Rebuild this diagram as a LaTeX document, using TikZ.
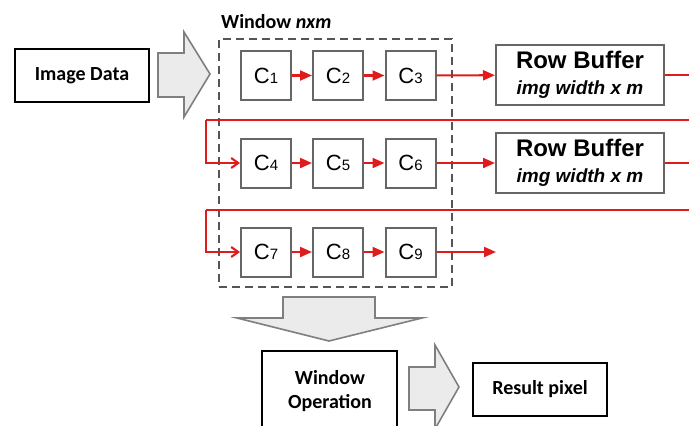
\documentclass[tikz,border=0pt]{standalone}
\usepackage{fontspec}
\setmainfont{Carlito}
\newfontfamily\arialish{Liberation Sans}
\usetikzlibrary{arrows.meta}
\definecolor{flow}{HTML}{E01B1B}
\definecolor{celledge}{HTML}{666666}
\definecolor{winedge}{HTML}{555555}
\definecolor{blockfill}{HTML}{EBEBEB}
\definecolor{blockedge}{HTML}{7F7F7F}
\newcommand{\cellname}[1]{{\fontsize{22}{22}\selectfont C}{\fontsize{15}{15}\selectfont #1}}
\newcommand{\rowbuf}{Row Buffer\\{\fontsize{19}{19}\selectfont\itshape img width x m}}

\begin{document}
\begin{tikzpicture}[x=1pt,y=-1pt,
  cell/.style={draw=celledge,line width=2pt,minimum width=50pt,minimum height=49pt,inner sep=0pt,font=\arialish},
  rowbox/.style={draw=celledge,line width=2pt,minimum width=168pt,minimum height=60pt,inner sep=0pt,align=center,
    font=\arialish\fontsize{24}{26}\selectfont\bfseries},
  plainbox/.style={draw=black,line width=1.8pt,inner sep=0pt,align=center,font=\fontsize{20}{24}\selectfont\bfseries},
  block/.style={draw=blockedge,line width=1.6pt,fill=blockfill,line join=miter},
  flowline/.style={draw=flow,line width=2.1pt},
  tri/.style={-{Triangle[length=12pt,width=10pt]}},
  barb/.style={-{Straight Barb[length=7pt,width=10pt]}}]
\useasboundingbox (0,0) rectangle (689,426);
\clip (0,0) rectangle (689,426);

% input and its block arrow
\node[plainbox,minimum width=134pt,minimum height=53pt] (img) at (82,75.5) {Image Data};
\draw[block] (158,53) -- (184,53) -- (184,32) -- (210,74) -- (184,117) -- (184,97) -- (158,97) -- cycle;

% window frame and title
\node[draw=winedge,line width=1.6pt,dash pattern=on 8pt off 5pt,minimum width=233pt,minimum height=248pt,inner sep=0pt] (win) at (335.5,163) {};
\node[anchor=base west,inner sep=0pt,font=\fontsize{20}{24}\selectfont\bfseries] (wtitle) at (221,28) {Window \textit{nxm}};

% window cells
\node[cell] (c1) at (266,75.5) {\cellname{1}};
\node[cell] (c2) at (338,75.5) {\cellname{2}};
\node[cell] (c3) at (410.5,75.5) {\cellname{3}};
\node[cell] (c4) at (266,163) {\cellname{4}};
\node[cell] (c5) at (338,163) {\cellname{5}};
\node[cell] (c6) at (410.5,163) {\cellname{6}};
\node[cell] (c7) at (266,252) {\cellname{7}};
\node[cell] (c8) at (338,252) {\cellname{8}};
\node[cell] (c9) at (410.5,252) {\cellname{9}};

% row buffers
\node[rowbox] (rb1) at (580,75) {\rowbuf};
\node[rowbox] (rb2) at (580,163) {\rowbuf};

% free ends of the data path
\coordinate (out1) at (695,75);
\coordinate (out2) at (695,163);
\coordinate (ret1) at (695,120);
\coordinate (ret2) at (695,210);
\coordinate (turn1) at (206,120);
\coordinate (turn2) at (206,210);
\coordinate (out3) at (496,252);

% data path
\draw[flowline,tri] (c1) -- (c2);
\draw[flowline,tri] (c2) -- (c3);
\draw[flowline,tri] (c3) -- (rb1);
\draw[flowline] (rb1) -- (out1);
\draw[flowline] (ret1) -- (turn1);
\draw[flowline,barb] (turn1) |- (c4);
\draw[flowline,tri] (c4) -- (c5);
\draw[flowline,tri] (c5) -- (c6);
\draw[flowline,tri] (c6) -- (rb2);
\draw[flowline] (rb2) -- (out2);
\draw[flowline] (ret2) -- (turn2);
\draw[flowline,barb] (turn2) |- (c7);
\draw[flowline,tri] (c7) -- (c8);
\draw[flowline,tri] (c8) -- (c9);
\draw[flowline,tri] (c9) -- (out3);

% window operation stage
\draw[block] (283,297) -- (375,297) -- (375,318) -- (422,318) -- (329,341) -- (237,318) -- (283,318) -- cycle;
\node[plainbox,minimum width=135pt,minimum height=90pt] (wop) at (329.5,396) {};
\node[align=center,inner sep=0pt,font=\fontsize{20}{24}\selectfont\bfseries] (woptext) at (330,391) {Window\\Operation};
\draw[block] (409,367) -- (435,367) -- (435,345) -- (459,387) -- (435,429) -- (435,410) -- (409,410) -- cycle;
\node[plainbox,minimum width=134pt,minimum height=53pt] (res) at (540,389.5) {Result pixel};
\end{tikzpicture}
\end{document}
